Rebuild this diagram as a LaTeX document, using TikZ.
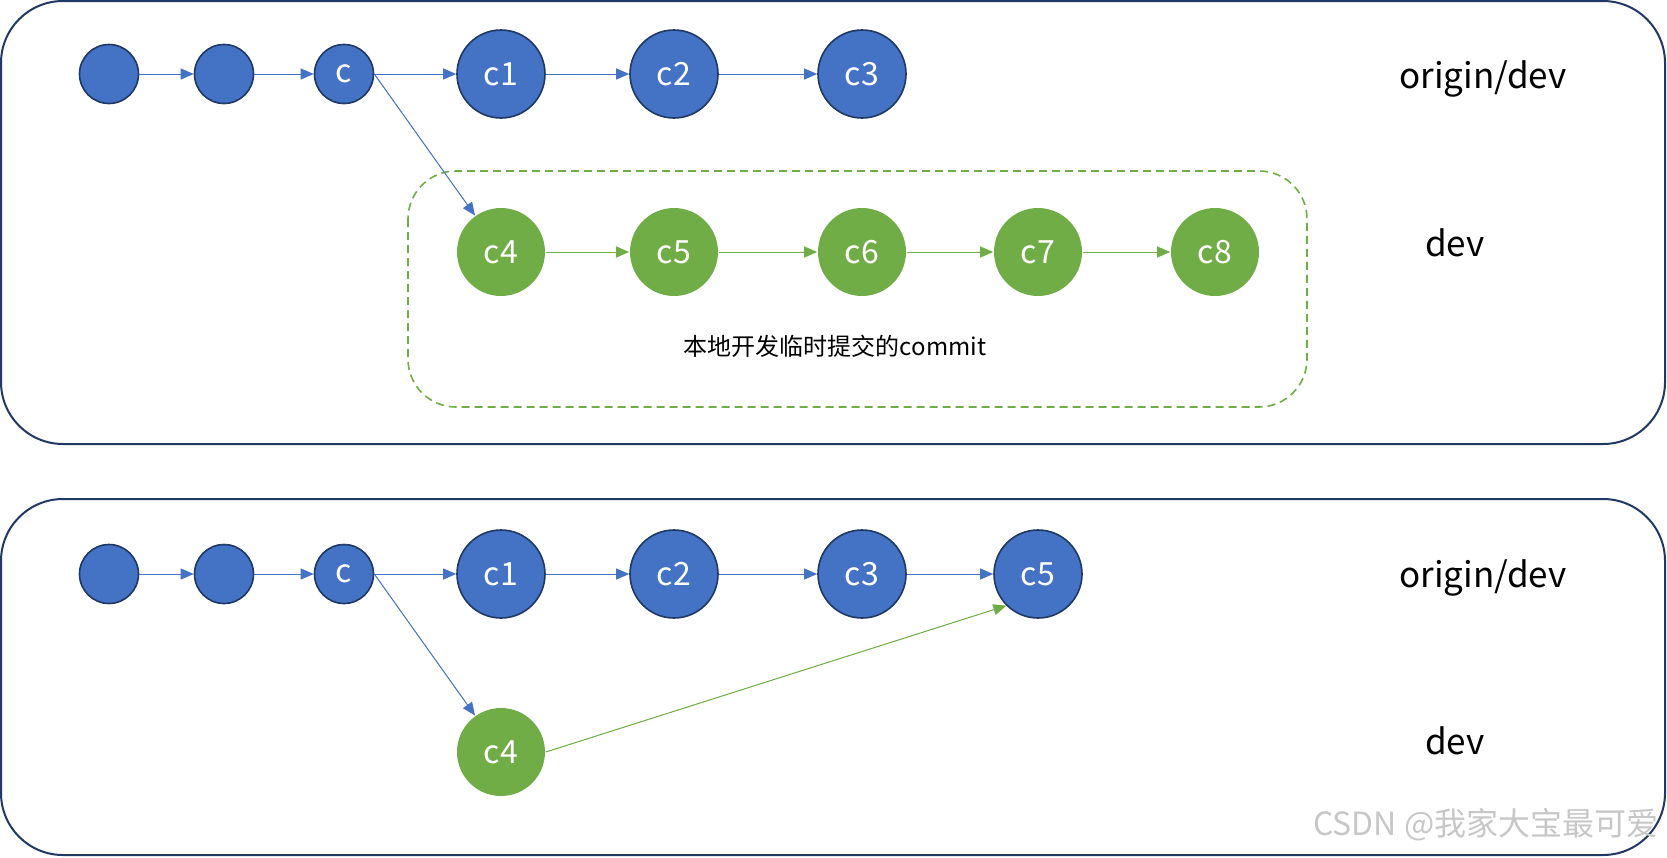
\documentclass[tikz,border=0pt]{standalone}
\usepackage{fontspec}
\setmainfont{Noto Sans CJK SC}
\usetikzlibrary{arrows.meta}
\definecolor{cblue}{HTML}{4472C4}
\definecolor{cgreen}{HTML}{70AD47}
\definecolor{navy}{HTML}{1F3864}

\begin{document}
\begin{tikzpicture}[x=1pt, y=-1pt,
	frame/.style = {draw=navy, line width=2pt, rounded corners=62pt},
	small/.style = {draw=navy, fill=cblue, circle, line width=1.6pt, minimum size=59pt, inner sep=0pt, text=white, font=\fontsize{32}{32}\selectfont},
	big/.style = {small, minimum size=88pt},
	local/.style = {big, draw=none, fill=cgreen},
	blink/.style = {-{Triangle[length=13pt,width=11pt]}, draw=cblue, fill=cblue, line width=1pt},
	glink/.style = {blink, draw=cgreen, fill=cgreen},
	label/.style = {font=\fontsize{35}{35}\selectfont}]

	\useasboundingbox (0,0) rectangle (1667,857);

	% remote branch before pull
	\draw[frame] (1,1) rectangle (1665,444);
	\draw[draw=cgreen, line width=1.6pt, dash pattern=on 8pt off 5pt, rounded corners=48pt] (408,171) rectangle (1307,407);

	\node[small] (A1) at (109,74) {};
	\node[small] (B1) at (224,74) {};
	\node[small] (C1) at (344,74) {c};
	\node[big] (Ca1) at (501,74) {c1};
	\node[big] (Cb1) at (674,74) {c2};
	\node[big] (Cc1) at (862,74) {c3};
	\node[local] (Cd1) at (501,252) {c4};
	\node[local] (Ce1) at (674,252) {c5};
	\node[local] (Cf1) at (862,252) {c6};
	\node[local] (Cg1) at (1038,252) {c7};
	\node[local] (Ch1) at (1215,252) {c8};
	\node[label] (R1) at (1483,79) {origin/dev};
	\node[label] (L1) at (1455,243) {dev};
	\node[font=\fontsize{24}{24}\selectfont] (T1) at (835,346) {本地开发临时提交的commit};

	\draw[blink] (A1) -- (B1);
	\draw[blink] (B1) -- (C1);
	\draw[blink] (C1.east) -- (Ca1);
	\draw[blink] (C1.east) -- (Cd1);
	\draw[blink] (Ca1) -- (Cb1);
	\draw[blink] (Cb1) -- (Cc1);
	\draw[glink] (Cd1) -- (Ce1);
	\draw[glink] (Ce1) -- (Cf1);
	\draw[glink] (Cf1) -- (Cg1);
	\draw[glink] (Cg1) -- (Ch1);

	% after rebase
	\draw[frame] (1,499) rectangle (1665,855);

	\node[small] (A2) at (109,574) {};
	\node[small] (B2) at (224,574) {};
	\node[small] (C2) at (344,574) {c};
	\node[big] (Ca2) at (501,574) {c1};
	\node[big] (Cb2) at (674,574) {c2};
	\node[big] (Cc2) at (862,574) {c3};
	\node[big] (Ce2) at (1038,574) {c5};
	\node[local] (Cd2) at (501,752) {c4};
	\node[label] (R2) at (1483,578) {origin/dev};
	\node[label] (L2) at (1455,741) {dev};

	\draw[blink] (A2) -- (B2);
	\draw[blink] (B2) -- (C2);
	\draw[blink] (C2.east) -- (Ca2);
	\draw[blink] (C2.east) -- (Cd2);
	\draw[blink] (Ca2) -- (Cb2);
	\draw[blink] (Cb2) -- (Cc2);
	\draw[blink] (Cc2) -- (Ce2);
	\draw[glink] (Cd2.east) -- (Ce2.south west);

	\node[anchor=east, text=black!22, font=\fontsize{32}{32}\selectfont] (W) at (1662,825) {CSDN @我家大宝最可爱};
\end{tikzpicture}
\end{document}
